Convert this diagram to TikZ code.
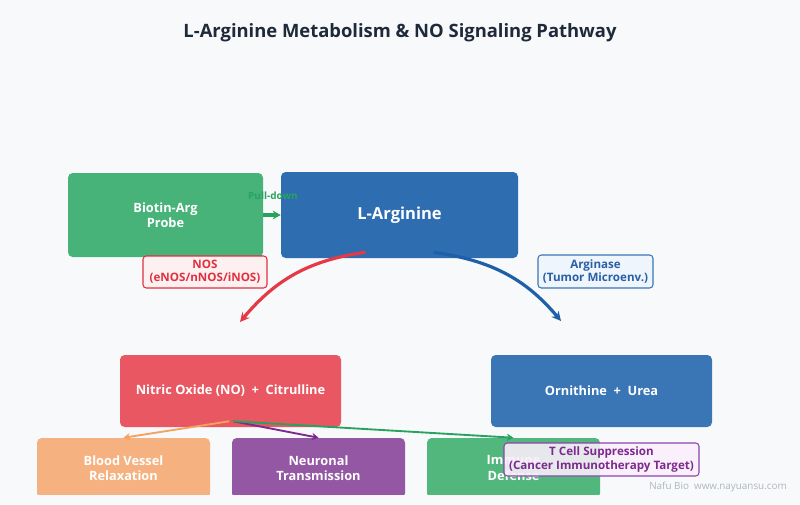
\documentclass[tikz,border=0pt]{standalone}
\usepackage{fontspec}
\setmainfont{Open Sans}
\usetikzlibrary{arrows.meta}
\definecolor{bgc}{HTML}{F8F9FB}
\definecolor{titlec}{HTML}{1E2A3A}
\definecolor{greenbox}{HTML}{48B378}
\definecolor{bluebox}{HTML}{2E6DB0}
\definecolor{redbox}{HTML}{E85762}
\definecolor{bluebox2}{HTML}{3A76B5}
\definecolor{orangebox}{HTML}{F5B17F}
\definecolor{purplebox}{HTML}{9457A3}
\definecolor{greenbox2}{HTML}{52B77D}
\definecolor{redarrow}{HTML}{E63946}
\definecolor{bluearrow}{HTML}{1F5FA8}
\definecolor{orangearrow}{HTML}{F4A261}
\definecolor{purplearrow}{HTML}{7B2A8E}
\definecolor{greenarrow}{HTML}{27A35F}
\definecolor{nosfill}{HTML}{FDF0F0}
\definecolor{nostext}{HTML}{E03040}
\definecolor{argfill}{HTML}{EEF5FD}
\definecolor{argtext}{HTML}{2A5FA5}
\definecolor{tfill}{HTML}{FBEFFB}
\definecolor{tborder}{HTML}{8E44AD}
\definecolor{ttext}{HTML}{7D2A8E}
\definecolor{wmark}{HTML}{AEB6BF}
\begin{document}
\begin{tikzpicture}[x=0.75pt,y=-0.75pt,
  box/.style={rounded corners=3.5pt, text=white, align=center, inner sep=0pt, draw=none,
    font=\bfseries\fontsize{9.6}{11.5}\selectfont},
  lbl/.style={rounded corners=2.5pt, align=center, inner sep=0pt, line width=0.8pt,
    font=\bfseries\fontsize{8.7}{10}\selectfont},
  arc/.style={line width=2.4pt, -{Stealth[length=7pt,width=7pt]}},
  thin/.style={line width=1.4pt, -{Stealth[length=5pt,width=5.5pt]}}]
\fill[bgc] (0,0) rectangle (800,504);
\useasboundingbox (0,0) rectangle (800,504);

\node[font=\bfseries\fontsize{13.8}{16}\selectfont, text=titlec] (title) at (400,33) {L-Arginine Metabolism \& NO Signaling Pathway};

\node[box, fill=greenbox, minimum width=195*0.75pt, minimum height=84*0.75pt] (biotin) at (165.5,215) {Biotin-Arg\\Probe};
\node[box, fill=bluebox, minimum width=237*0.75pt, minimum height=86*0.75pt, font=\bfseries\fontsize{12.4}{14}\selectfont] (larg) at (399.5,215) {L-Arginine};
\node[box, fill=redbox, minimum width=221*0.75pt, minimum height=72*0.75pt] (no) at (230.5,391) {Nitric Oxide (NO)~~+~~Citrulline};
\node[box, fill=bluebox2, minimum width=221*0.75pt, minimum height=72*0.75pt] (orn) at (601.5,391) {Ornithine~~+~~Urea};

\begin{scope}
\clip (0,0) rectangle (800,494);
\node[box, fill=orangebox, minimum width=173*0.75pt, minimum height=60*0.75pt] (blood) at (123.5,468) {Blood Vessel\\Relaxation};
\node[box, fill=purplebox, minimum width=173*0.75pt, minimum height=60*0.75pt] (neuro) at (318.5,468) {Neuronal\\Transmission};
\node[box, fill=greenbox2, minimum width=173*0.75pt, minimum height=60*0.75pt] (immune) at (513.5,468) {Immune\\Defense};
\end{scope}

\node[font=\bfseries\fontsize{7.5}{8}\selectfont, text=greenarrow] (pull) at (273,196) {Pull-down};
\draw[line width=2.4pt, greenarrow, -{Stealth[length=6pt,width=6.5pt]}] (biotin.east) -- (larg.west);

\coordinate (noend) at (240,322);
\coordinate (ornend) at (561,321);
\draw[arc, redarrow] ([xshift=-25.5pt,yshift=4.5pt]larg.south) to[out=188,in=50] (noend);
\draw[arc, bluearrow] ([xshift=25.5pt,yshift=4.5pt]larg.south) to[out=-8,in=130] (ornend);

\node[lbl, draw=nostext, fill=nosfill, text=nostext, minimum width=124*0.75pt, minimum height=32*0.75pt] (nos) at (205,272) {NOS\\(eNOS/nNOS/iNOS)};
\node[lbl, draw=bluebox2, fill=argfill, text=argtext, minimum width=115*0.75pt, minimum height=33*0.75pt] (arg) at (595.5,271.5) {Arginase\\(Tumor Microenv.)};

\draw[thin, orangearrow] ([xshift=-1pt,yshift=4.5pt]no.south) -- (blood.north);
\draw[thin, purplearrow] ([xshift=2pt,yshift=4.5pt]no.south) -- (neuro.north);
\draw[thin, greenarrow] ([xshift=2pt,yshift=4.5pt]no.south) -- (immune.north);

\node[lbl, draw=tborder, fill=tfill, fill opacity=0.88, text opacity=1, text=ttext, minimum width=195*0.75pt, minimum height=33*0.75pt] (tcell) at (601.5,459.5) {T Cell Suppression\\(Cancer Immunotherapy Target)};

\node[font=\fontsize{7.4}{8}\selectfont, text=wmark] (wm) at (718,487) {Nafu Bio~~www.nayuansu.com};
\end{tikzpicture}
\end{document}
